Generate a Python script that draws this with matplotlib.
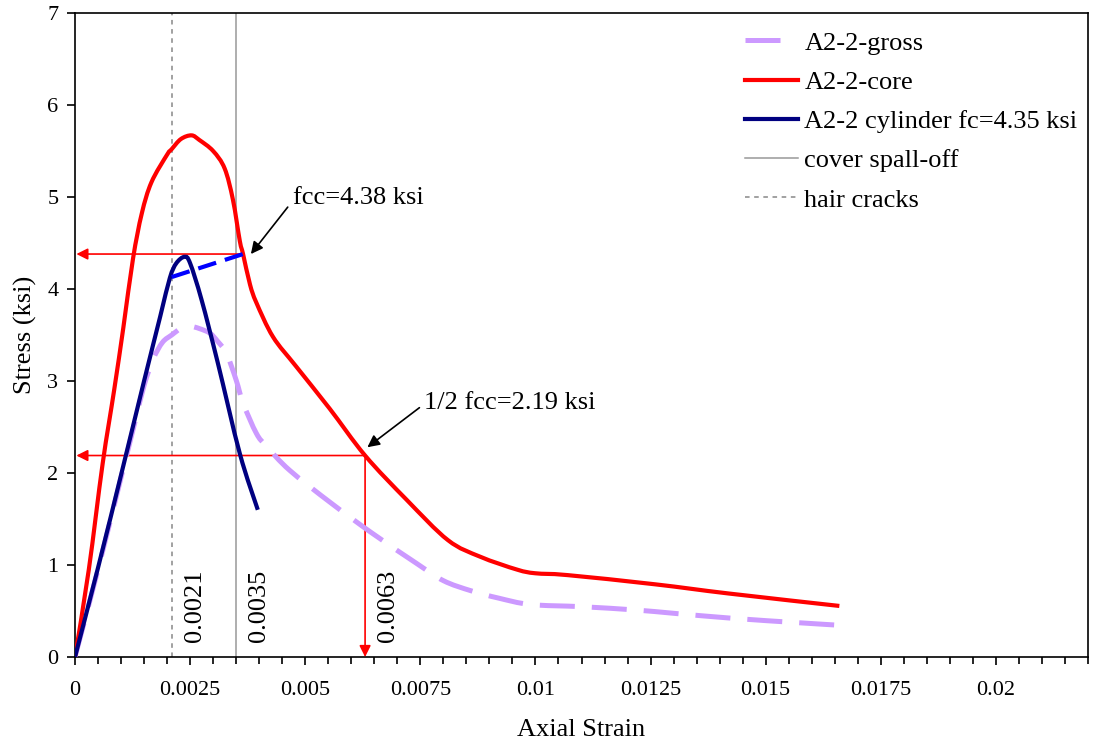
import numpy as np
import matplotlib
matplotlib.use("Agg")
import matplotlib.pyplot as plt
from matplotlib.ticker import MultipleLocator, FixedLocator
from matplotlib.path import Path
from matplotlib.patches import PathPatch
from matplotlib.lines import Line2D

# ---- measured stress-strain data (strain, stress in ksi) ----
gross_strain = [0.0, 0.0005, 0.0010, 0.0013, 0.0015, 0.0017, 0.0019, 0.0021, 0.0023,
                0.00253, 0.0027, 0.00293, 0.0031, 0.00329, 0.0035, 0.00365, 0.00394,
                0.00416, 0.00466, 0.00557, 0.00647, 0.00741, 0.0080, 0.0086, 0.0092,
                0.0099, 0.0110, 0.0122, 0.0130, 0.0143, 0.0157, 0.0166]
gross_stress = [0.0, 0.95, 1.95, 2.55, 2.95, 3.24, 3.42, 3.50, 3.57,
                3.59, 3.57, 3.52, 3.43, 3.30, 3.01, 2.76, 2.43,
                2.29, 2.03, 1.67, 1.34, 1.02, 0.83, 0.72, 0.64,
                0.57, 0.547, 0.51, 0.475, 0.42, 0.373, 0.345]

core_strain = [0.0, 0.0003, 0.0006, 0.00085, 0.00105, 0.00126, 0.00145, 0.00166,
               0.0020, 0.0021, 0.0023, 0.00253, 0.0027, 0.0030, 0.00325, 0.00343,
               0.00358, 0.00365, 0.0038, 0.00394, 0.0043, 0.0048, 0.00553, 0.0063,
               0.0072, 0.0081, 0.0088, 0.0096, 0.0100, 0.0107, 0.0126, 0.0142, 0.0166]
core_stress = [0.0, 0.95, 2.10, 2.90, 3.58, 4.33, 4.82, 5.16,
               5.46, 5.52, 5.63, 5.67, 5.62, 5.50, 5.31, 4.97,
               4.52, 4.38, 4.05, 3.85, 3.48, 3.16, 2.70, 2.19,
               1.71, 1.27, 1.09, 0.95, 0.91, 0.89, 0.79, 0.69, 0.555]

cyl_strain = [0.0, 0.0005, 0.00105, 0.0015, 0.00185, 0.00206, 0.0022, 0.00238,
              0.0025, 0.00275, 0.0031, 0.00358, 0.00397]
cyl_stress = [0.0, 0.97, 2.08, 3.00, 3.70, 4.12, 4.28, 4.35,
              4.28, 3.88, 3.20, 2.21, 1.60]

# key values
hair_crack_strain = 0.0021
spall_strain = 0.0035
fcc = 4.38
half_fcc = 2.19
half_fcc_strain = 0.0063
cyl_at_crack = 4.13

xtick_values = [0, 0.0025, 0.005, 0.0075, 0.01, 0.0125, 0.015, 0.0175, 0.02]
xtick_labels = ["0", "0.0025", "0.005", "0.0075", "0.01", "0.0125", "0.015", "0.0175", "0.02"]
ytick_values = [0, 1, 2, 3, 4, 5, 6, 7]

plt.rcParams['font.family'] = ['Liberation Serif', 'DejaVu Serif']


def smooth_path(xs, ys):
    """Cubic Bezier path through the points (spreadsheet-style smoothed line)."""
    p = np.column_stack([xs, ys]).astype(float)
    n = len(p)
    verts = [p[0]]
    codes = [Path.MOVETO]
    for i in range(n - 1):
        p0 = p[i - 1] if i > 0 else p[i]
        p1, p2 = p[i], p[i + 1]
        p3 = p[i + 2] if i + 2 < n else p[i + 1]
        c1 = p1 + (p2 - p0) / 6.0
        c2 = p2 - (p3 - p1) / 6.0
        verts += [c1, c2, p2]
        codes += [Path.CURVE4] * 3
    return Path(verts, codes)


fig = plt.figure(figsize=(10.95, 7.44), dpi=100)
ax = fig.add_axes([75 / 1095, 87 / 744, 1013 / 1095, 644 / 744])

lavender = '#CC99FF'
navy = '#000080'
spall_grey = '#999999'
crack_grey = '#888888'

# reference strain lines
ax.axvline(spall_strain, color=spall_grey, lw=1.1, zorder=1)
ax.axvline(hair_crack_strain, color=crack_grey, lw=1.1, ls=(0, (3, 3)), zorder=1)

# strain at which the core curve falls back to fcc
desc = np.array(core_strain) >= 0.0026
fcc_strain = float(np.interp(fcc, np.array(core_stress)[desc][::-1],
                             np.array(core_strain)[desc][::-1]))

# red guide arrows
arrow_red = dict(arrowstyle='-|>', color='red', lw=1.2, mutation_scale=17,
                 shrinkA=0, shrinkB=0)
ax.annotate('', xy=(0.00003, fcc), xytext=(fcc_strain, fcc), arrowprops=arrow_red, zorder=2)
ax.annotate('', xy=(0.00003, half_fcc), xytext=(half_fcc_strain, half_fcc),
            arrowprops=arrow_red, zorder=2)
ax.annotate('', xy=(half_fcc_strain, 0.0), xytext=(half_fcc_strain, half_fcc),
            arrowprops=arrow_red, zorder=2)

# curves
gross_dash = (0, (7, 3.4))
ax.add_patch(PathPatch(smooth_path(gross_strain, gross_stress), fill=False,
                       edgecolor=lavender, lw=3.6, ls=gross_dash, zorder=3,
                       capstyle='butt'))
ax.add_patch(PathPatch(smooth_path(core_strain, core_stress), fill=False,
                       edgecolor='red', lw=3.0, zorder=4))
ax.add_patch(PathPatch(smooth_path(cyl_strain, cyl_stress), fill=False,
                       edgecolor=navy, lw=3.0, zorder=5))
blue_dash, = ax.plot([hair_crack_strain, fcc_strain], [cyl_at_crack, fcc],
                     color='#0000FF', lw=3.0, zorder=5)
blue_dash.set_dashes([4.5, 2.2])

# callouts
arrow_blk = dict(arrowstyle='-|>', color='black', lw=1.2, mutation_scale=18,
                 shrinkA=0, shrinkB=0)
ax.text(0.00473, 4.99, 'fcc=4.38 ksi', fontsize=19, ha='left', va='center')
ax.annotate('', xy=(0.00382, 4.38), xytext=(0.00462, 4.89), arrowprops=arrow_blk)
ax.text(0.00759, 2.76, '1/2 fcc=2.19 ksi', fontsize=19, ha='left', va='center')
ax.annotate('', xy=(0.00635, 2.28), xytext=(0.00748, 2.71), arrowprops=arrow_blk)

for s in (hair_crack_strain, spall_strain, half_fcc_strain):
    ax.text(s + 0.0005, 0.16, f'{s:.4f}', rotation=90, fontsize=19,
            ha='center', va='bottom')

# axes
ax.set_xlim(0, 0.022)
ax.set_ylim(0, 7)
ax.xaxis.set_major_locator(FixedLocator(xtick_values))
ax.set_xticklabels(xtick_labels)
ax.xaxis.set_minor_locator(MultipleLocator(0.0005))
ax.set_yticks(ytick_values)
ax.tick_params(axis='both', which='major', direction='out', length=6, width=1.2,
               labelsize=16, top=False, right=False)
ax.tick_params(axis='x', which='major', pad=11)
ax.tick_params(axis='y', which='major', pad=6)
ax.tick_params(axis='x', which='minor', direction='out', length=5, width=1.2, top=False)
for sp in ax.spines.values():
    sp.set_linewidth(1.2)

ax.set_xlabel('Axial Strain', fontsize=19, labelpad=14)
ax.set_ylabel('Stress (ksi)', fontsize=19, labelpad=7)

legend_handles = [
    Line2D([], [], color=lavender, lw=3.6, ls=(0, (7, 10)), solid_capstyle='butt'),
    Line2D([], [], color='red', lw=3.0),
    Line2D([], [], color=navy, lw=3.0),
    Line2D([], [], color=spall_grey, lw=1.1),
    Line2D([], [], color=crack_grey, lw=1.1, ls=(0, (3, 3))),
]
legend_labels = ['A2-2-gross', 'A2-2-core', 'A2-2 cylinder fc=4.35 ksi',
                 'cover spall-off', 'hair cracks']
ax.legend(legend_handles, legend_labels, loc='upper left',
          bbox_to_anchor=(0.6614, 0.972), frameon=False, fontsize=19,
          handlelength=2.0, handletextpad=0.25, labelspacing=0.6,
          borderpad=0, borderaxespad=0)

fig.savefig('out.png', dpi=100)
